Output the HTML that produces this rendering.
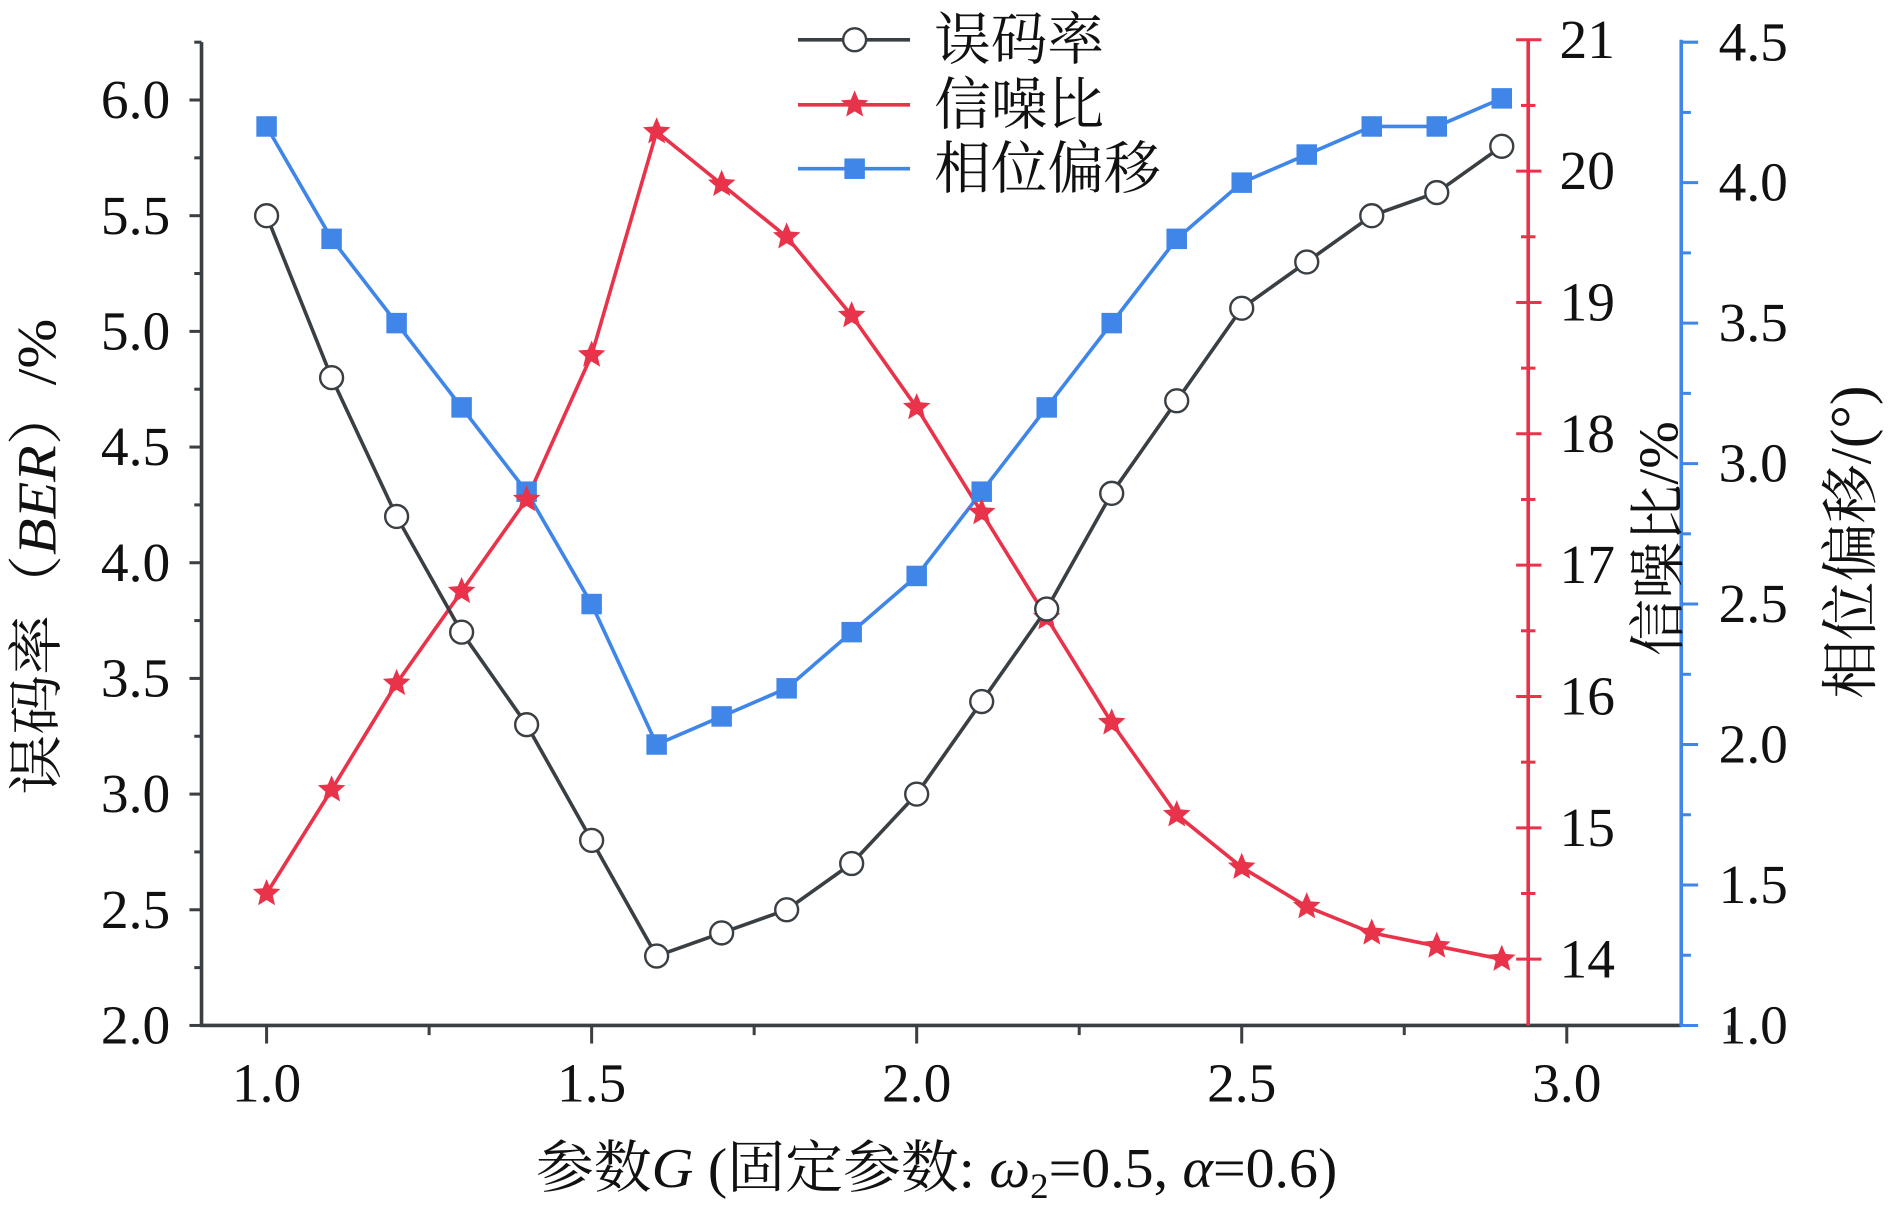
<!DOCTYPE html>
<html><head><meta charset="utf-8"><style>
html,body{margin:0;padding:0;background:#fff;}
svg{display:block;font-family:"Liberation Serif","Noto Serif CJK SC",serif;}
</style></head><body>
<svg id="chart" width="1890" height="1205" viewBox="0 0 1568 1000" xmlns="http://www.w3.org/2000/svg"></svg>
<script>
const xValues=[1.0,1.1,1.2,1.3,1.4,1.5,1.6,1.7,1.8,1.9,2.0,2.1,2.2,2.3,2.4,2.5,2.6,2.7,2.8,2.9];
const berValues=[5.5,4.8,4.2,3.7,3.3,2.8,2.3,2.4,2.5,2.7,3.0,3.4,3.8,4.3,4.7,5.1,5.3,5.5,5.6,5.8];
const snrValues=[14.5,15.29,16.1,16.8,17.5,18.6,20.3,19.9,19.5,18.9,18.2,17.4,16.6,15.8,15.1,14.7,14.4,14.2,14.1,14.0];
const phaseValues=[4.2,3.8,3.5,3.2,2.9,2.5,2.0,2.1,2.2,2.4,2.6,2.9,3.2,3.5,3.8,4.0,4.1,4.2,4.2,4.3];
const xTicks=[1.0,1.5,2.0,2.5,3.0];
const berTicks=[2.0,2.5,3.0,3.5,4.0,4.5,5.0,5.5,6.0];
const snrTicks=[14,15,16,17,18,19,20,21];
const phaseTicks=[1.0,1.5,2.0,2.5,3.0,3.5,4.0,4.5];

const svg=document.getElementById('chart');
const NS='http://www.w3.org/2000/svg';
const X=v=>221+(v-1.0)*539.5;
const YB=v=>851-(v-2.0)*192;
const YS=v=>796-(v-14)*109;
const YP=v=>851-(v-1.0)*233.14;
const BLACK='#3a3f44',RED='#e8334a',BLUE='#3f86e8';
const FS=46;
function el(tag,attrs,parent){const e=document.createElementNS(NS,tag);for(const k in attrs)e.setAttribute(k,attrs[k]);(parent||svg).appendChild(e);return e;}
function txt(s,attrs){const t=el('text',attrs);t.textContent=s;return t;}

// left axis
let a=el('line',{x1:167,y1:35,x2:167,y2:852,stroke:BLACK,'stroke-width':3});

for(let v=2.0;v<=6.25;v+=0.25){const y=YB(v);const major=Math.abs(v*2-Math.round(v*2))<1e-6;
 el('line',{x1:major?157:161,y1:y,x2:167,y2:y,stroke:BLACK,'stroke-width':2.5});}
berTicks.forEach(v=>{const t=txt(v.toFixed(1),{x:141,y:YB(v)+15,'text-anchor':'end','font-size':FS,fill:'#111'});
 });
// x axis
a=el('line',{x1:166,y1:851,x2:1395,y2:851,stroke:BLACK,'stroke-width':3});

for(let v=1.0;v<=3.3;v+=0.25){const x=X(v);const major=Math.abs(v*2-Math.round(v*2))<1e-6;
 el('line',{x1:x,y1:851,x2:x,y2:major?866:859,stroke:BLACK,'stroke-width':2.5});}
xTicks.forEach(v=>{const t=txt(v.toFixed(1),{x:X(v),y:914,'text-anchor':'middle','font-size':FS,fill:'#111'});
 });
// red axis
a=el('line',{x1:1268,y1:33,x2:1268,y2:851,stroke:RED,'stroke-width':3});

for(let v=14;v<=21.01;v+=0.5){const y=YS(v);const major=Math.abs(v-Math.round(v))<1e-6;
 el('line',{x1:major?1258:1262,y1:y,x2:major?1279:1274,y2:y,stroke:RED,'stroke-width':2.5});}
snrTicks.forEach(v=>{const t=txt(String(v),{x:1294,y:YS(v)+15,'font-size':FS,fill:'#111'});
 });
// blue axis
a=el('line',{x1:1395,y1:33,x2:1395,y2:852,stroke:BLUE,'stroke-width':3});

for(let v=1.0;v<=4.51;v+=0.25){const y=YP(v);const major=Math.abs(v*2-Math.round(v*2))<1e-6;
 el('line',{x1:1395,y1:y,x2:major?1409:1403,y2:y,stroke:BLUE,'stroke-width':2.5});}
phaseTicks.forEach(v=>{const t=txt(v.toFixed(1),{x:1426,y:YP(v)+15,'font-size':FS,fill:'#111'});
 });

// series
function line(vals,yf,color,name){
 const p=el('polyline',{points:vals.map((v,i)=>X(xValues[i])+','+yf(v)).join(' '),fill:'none',stroke:color,'stroke-width':3});
 }
function star(cx,cy,r,color){let pts=[];for(let k=0;k<10;k++){const ang=-Math.PI/2+k*Math.PI/5;const rr=k%2?r*0.45:r;pts.push((cx+rr*Math.cos(ang))+','+(cy+rr*Math.sin(ang)));}
 return el('polygon',{points:pts.join(' '),fill:color});}
line(phaseValues,YP,BLUE,'phase-line');
line(snrValues,YS,RED,'snr-line');
line(berValues,YB,BLACK,'ber-line');
phaseValues.forEach((v,i)=>{const m=el('rect',{x:X(xValues[i])-8.5,y:YP(v)-8.5,width:17,height:17,fill:BLUE});
 });
snrValues.forEach((v,i)=>{const m=star(X(xValues[i]),YS(v),12,RED);
 });
berValues.forEach((v,i)=>{const m=el('circle',{cx:X(xValues[i]),cy:YB(v),r:9.5,fill:'#fff',stroke:BLACK,'stroke-width':2});
 });

// legend
[['误码率',BLACK,'c',33],['信噪比',RED,'s',87],['相位偏移',BLUE,'r',140]].forEach(([lab,c,k,y])=>{
 const g=el('g',{});
 el('line',{x1:662,y1:y,x2:755,y2:y,stroke:c,'stroke-width':3},g);
 if(k==='c')el('circle',{cx:709,cy:y,r:9.5,fill:'#fff',stroke:c,'stroke-width':2},g);
 else if(k==='s'){const s=star(709,y,12,c);g.appendChild(s);}
 else el('rect',{x:700.5,y:y-8.5,width:17,height:17,fill:c},g);
 const t=el('text',{x:775,y:y+16,'font-size':47,fill:'#111'},g);t.textContent=lab;});

// axis titles
let t=txt('',{transform:'translate(46,462) rotate(-90)','text-anchor':'middle','font-size':46,fill:'#111',textLength:395,lengthAdjust:'spacingAndGlyphs'});
t.innerHTML='误码率（<tspan font-style="italic">BER</tspan>）/%';

t=txt('信噪比/%',{transform:'translate(1392,447) rotate(-90)','text-anchor':'middle','font-size':47,fill:'#111',textLength:195,lengthAdjust:'spacingAndGlyphs'});

t=txt('相位偏移/(°)',{transform:'translate(1552,450) rotate(-90)','text-anchor':'middle','font-size':48,fill:'#111',textLength:260,lengthAdjust:'spacingAndGlyphs'});

t=txt('',{x:777,y:985,'text-anchor':'middle','font-size':47,fill:'#111',textLength:665,lengthAdjust:'spacingAndGlyphs'});
t.innerHTML='参数<tspan font-style="italic">G</tspan> (固定参数: <tspan font-style="italic">ω</tspan><tspan font-size="30" dy="9">2</tspan><tspan dy="-9">=0.5, </tspan><tspan font-style="italic">α</tspan>=0.6)';

</script>
</body></html>
